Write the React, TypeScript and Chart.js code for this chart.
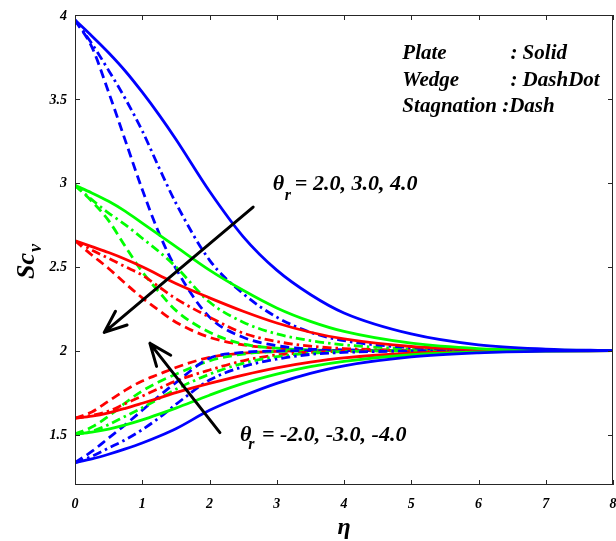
import React, { useEffect, useRef } from 'react';
import { Chart, registerables } from 'chart.js';

Chart.register(...registerables);

// ---------- data ----------
const ETA = [0, 0.25, 0.5, 0.75, 1, 1.25, 1.5, 2, 2.5, 3, 3.5, 4, 5, 6, 7, 8];

// Plate (solid)
const PLATE_POS_2 = [2.655, 2.62, 2.585, 2.545, 2.5, 2.45, 2.4, 2.315, 2.235, 2.165, 2.11, 2.07, 2.025, 2.008, 2.002, 2.0];
const PLATE_POS_3 = [2.985, 2.94, 2.89, 2.83, 2.76, 2.69, 2.62, 2.48, 2.36, 2.255, 2.175, 2.115, 2.045, 2.013, 2.004, 2.0];
const PLATE_POS_4 = [3.97, 3.875, 3.775, 3.665, 3.54, 3.405, 3.26, 2.95, 2.68, 2.48, 2.335, 2.225, 2.1, 2.035, 2.01, 2.0];
const PLATE_NEG_2 = [1.598, 1.61, 1.63, 1.657, 1.687, 1.718, 1.75, 1.805, 1.855, 1.898, 1.932, 1.957, 1.985, 1.995, 1.999, 2.0];
const PLATE_NEG_3 = [1.503, 1.515, 1.533, 1.558, 1.588, 1.622, 1.658, 1.735, 1.805, 1.86, 1.905, 1.937, 1.976, 1.992, 1.998, 2.0];
const PLATE_NEG_4 = [1.333, 1.355, 1.383, 1.415, 1.45, 1.49, 1.535, 1.645, 1.73, 1.805, 1.865, 1.91, 1.963, 1.987, 1.997, 2.0];

// Wedge (dash-dot)
const WEDGE_POS_2 = [2.655, 2.6, 2.55, 2.5, 2.45, 2.38, 2.31, 2.2, 2.105, 2.055, 2.027, 2.013, 2.003, 2.0, 2.0, 2.0];
const WEDGE_POS_3 = [2.985, 2.9, 2.82, 2.75, 2.67, 2.59, 2.5, 2.29, 2.17, 2.1, 2.06, 2.035, 2.01, 2.003, 2.0, 2.0];
const WEDGE_POS_4 = [3.97, 3.83, 3.67, 3.5, 3.31, 3.09, 2.88, 2.54, 2.34, 2.2, 2.11, 2.06, 2.018, 2.005, 2.0, 2.0];
const WEDGE_NEG_2 = [1.598, 1.615, 1.64, 1.685, 1.73, 1.775, 1.82, 1.885, 1.94, 1.975, 1.99, 1.997, 2.0, 2.0, 2.0, 2.0];
const WEDGE_NEG_3 = [1.503, 1.52, 1.56, 1.61, 1.66, 1.715, 1.77, 1.86, 1.925, 1.965, 1.985, 1.995, 2.0, 2.0, 2.0, 2.0];
const WEDGE_NEG_4 = [1.333, 1.37, 1.42, 1.47, 1.53, 1.6, 1.68, 1.825, 1.905, 1.95, 1.978, 1.99, 1.998, 2.0, 2.0, 2.0];

// Stagnation (dash)
const STAG_POS_2 = [2.655, 2.57, 2.49, 2.4, 2.315, 2.24, 2.17, 2.08, 2.035, 2.015, 2.006, 2.002, 2.0, 2.0, 2.0, 2.0];
const STAG_POS_3 = [2.985, 2.89, 2.775, 2.62, 2.47, 2.35, 2.24, 2.11, 2.04, 2.015, 2.005, 2.0, 2.0, 2.0, 2.0, 2.0];
const STAG_POS_4 = [3.97, 3.81, 3.54, 3.25, 2.96, 2.7, 2.49, 2.2, 2.08, 2.03, 2.01, 2.005, 2.0, 2.0, 2.0, 2.0];
const STAG_NEG_2 = [1.598, 1.635, 1.7, 1.765, 1.82, 1.86, 1.9, 1.96, 1.985, 1.996, 2.0, 2.0, 2.0, 2.0, 2.0, 2.0];
const STAG_NEG_3 = [1.503, 1.545, 1.61, 1.69, 1.76, 1.815, 1.86, 1.94, 1.98, 1.995, 2.0, 2.0, 2.0, 2.0, 2.0, 2.0];
const STAG_NEG_4 = [1.333, 1.4, 1.48, 1.56, 1.645, 1.73, 1.81, 1.955, 1.99, 1.998, 2.0, 2.0, 2.0, 2.0, 2.0, 2.0];

const X_TICKS = [0, 1, 2, 3, 4, 5, 6, 7, 8];
const X_TICK_LABELS = ['0', '1', '2', '3', '4', '5', '6', '7', '8'];
const Y_TICKS = [1.5, 2, 2.5, 3, 3.5, 4];
const Y_TICK_LABELS = ['1.5', '2', '2.5', '3', '3.5', '4'];

const LEGEND_NAMES = ['Plate', 'Wedge', 'Stagnation :Dash'];
const LEGEND_STYLES = [': Solid', ': DashDot', ''];
const THETA_POS_TEXT = '= 2.0, 3.0, 4.0';
const THETA_NEG_TEXT = '= -2.0, -3.0, -4.0';

// ---------- styles ----------
const RED = '#ff0000';
const GREEN = '#00ff00';
const BLUE = '#0000ff';
const SOLID: number[] = [];
const DASHDOT = [9, 4, 2.5, 4];
const DASH = [9, 5];
const SERIF = '"Liberation Serif", "Times New Roman", serif';

const SERIES = [
  { d: PLATE_POS_4, c: BLUE, dash: SOLID },
  { d: PLATE_NEG_4, c: BLUE, dash: SOLID },
  { d: PLATE_POS_3, c: GREEN, dash: SOLID },
  { d: PLATE_NEG_3, c: GREEN, dash: SOLID },
  { d: PLATE_POS_2, c: RED, dash: SOLID },
  { d: PLATE_NEG_2, c: RED, dash: SOLID },
  { d: WEDGE_POS_4, c: BLUE, dash: DASHDOT },
  { d: WEDGE_NEG_4, c: BLUE, dash: DASHDOT },
  { d: WEDGE_POS_3, c: GREEN, dash: DASHDOT },
  { d: WEDGE_NEG_3, c: GREEN, dash: DASHDOT },
  { d: WEDGE_POS_2, c: RED, dash: DASHDOT },
  { d: WEDGE_NEG_2, c: RED, dash: DASHDOT },
  { d: STAG_POS_4, c: BLUE, dash: DASH },
  { d: STAG_NEG_4, c: BLUE, dash: DASH },
  { d: STAG_POS_3, c: GREEN, dash: DASH },
  { d: STAG_NEG_3, c: GREEN, dash: DASH },
  { d: STAG_POS_2, c: RED, dash: DASH },
  { d: STAG_NEG_2, c: RED, dash: DASH },
];

// annotation anchors in data coordinates (eta, value)
const ARROW_UP = { from: [2.649, 2.856], to: [0.435, 2.109] };
const ARROW_DOWN = { from: [2.155, 1.512], to: [1.114, 2.044] };
const LEGEND_X = 4.868;
const LEGEND_X2 = 6.474;
const LEGEND_Y = [3.737, 3.576, 3.421];
const THETA_POS = { x: 2.942, y: 2.955, rx: 3.12, ry: 2.896, tx: 3.269 };
const THETA_NEG = { x: 2.452, y: 1.463, rx: 2.578, ry: 1.412, tx: 2.779 };

const overlay = {
  id: 'overlay',
  afterDraw(chart: any) {
    const { ctx, chartArea: a, scales } = chart;
    const xs = scales.x;
    const ys = scales.y;
    const px = (v: number) => xs.getPixelForValue(v);
    const py = (v: number) => ys.getPixelForValue(v);
    ctx.save();

    // frame + inward ticks
    ctx.strokeStyle = '#262626';
    ctx.lineWidth = 1;
    ctx.setLineDash([]);
    ctx.strokeRect(a.left + 0.5, a.top + 0.5, a.right - a.left - 1, a.bottom - a.top - 1);
    ctx.beginPath();
    X_TICKS.forEach((t) => {
      const x = Math.round(px(t)) + 0.5;
      ctx.moveTo(x, a.bottom);
      ctx.lineTo(x, a.bottom - 5);
      ctx.moveTo(x, a.top);
      ctx.lineTo(x, a.top + 5);
    });
    Y_TICKS.forEach((t) => {
      const y = Math.round(py(t)) + 0.5;
      ctx.moveTo(a.left, y);
      ctx.lineTo(a.left + 5, y);
      ctx.moveTo(a.right, y);
      ctx.lineTo(a.right - 5, y);
    });
    ctx.stroke();

    // tick labels
    ctx.fillStyle = '#000';
    ctx.font = `italic bold 14px ${SERIF}`;
    ctx.textAlign = 'center';
    ctx.textBaseline = 'top';
    X_TICKS.forEach((t, i) => ctx.fillText(X_TICK_LABELS[i], px(t), a.bottom + 12));
    ctx.textAlign = 'right';
    ctx.textBaseline = 'middle';
    Y_TICKS.forEach((t, i) => ctx.fillText(Y_TICK_LABELS[i], a.left - 8, py(t) + 1));

    // axis titles
    ctx.textAlign = 'center';
    ctx.textBaseline = 'alphabetic';
    ctx.font = `italic bold 24px ${SERIF}`;
    ctx.fillText('η', (a.left + a.right) / 2, 534);

    ctx.save();
    ctx.translate(34, 279);
    ctx.rotate(-Math.PI / 2);
    ctx.textAlign = 'left';
    ctx.font = `italic bold 26px ${SERIF}`;
    ctx.fillText('Sc', 0, 0);
    const w = ctx.measureText('Sc').width;
    ctx.font = `italic bold 18px ${SERIF}`;
    ctx.fillText('v', w + 1, 7);
    ctx.restore();

    // legend-like text
    ctx.textAlign = 'left';
    ctx.font = `italic bold 21px ${SERIF}`;
    LEGEND_NAMES.forEach((n, i) => {
      ctx.fillText(n, px(LEGEND_X), py(LEGEND_Y[i]));
      if (LEGEND_STYLES[i]) ctx.fillText(LEGEND_STYLES[i], px(LEGEND_X2), py(LEGEND_Y[i]));
    });

    // theta labels
    const theta = (p: any, txt: string) => {
      ctx.font = `italic bold 22px ${SERIF}`;
      ctx.fillText('θ', px(p.x), py(p.y));
      ctx.font = `italic bold 16px ${SERIF}`;
      ctx.fillText('r', px(p.rx), py(p.ry));
      ctx.font = `italic bold 22px ${SERIF}`;
      ctx.fillText(txt, px(p.tx), py(p.y));
    };
    theta(THETA_POS, THETA_POS_TEXT);
    theta(THETA_NEG, THETA_NEG_TEXT);

    // arrows
    const arrow = (ar: any) => {
      const x0 = px(ar.from[0]);
      const y0 = py(ar.from[1]);
      const x1 = px(ar.to[0]);
      const y1 = py(ar.to[1]);
      ctx.strokeStyle = '#000';
      ctx.lineWidth = 3;
      ctx.lineCap = 'round';
      ctx.beginPath();
      ctx.moveTo(x0, y0);
      ctx.lineTo(x1, y1);
      const ang = Math.atan2(y0 - y1, x0 - x1);
      const HL = 24;
      const HA = (22 * Math.PI) / 180;
      [-1, 1].forEach((s) => {
        ctx.moveTo(x1, y1);
        ctx.lineTo(x1 + HL * Math.cos(ang + s * HA), y1 + HL * Math.sin(ang + s * HA));
      });
      ctx.stroke();
    };
    arrow(ARROW_UP);
    arrow(ARROW_DOWN);

    ctx.restore();
  },
};

export default function App() {
  const ref = useRef<HTMLCanvasElement | null>(null);
  useEffect(() => {
    if (!ref.current) return;
    const chart = new Chart(ref.current, {
      type: 'line',
      data: {
        datasets: SERIES.map((s) => ({
          data: ETA.map((x, i) => ({ x, y: s.d[i] })),
          borderColor: s.c,
          backgroundColor: s.c,
          borderDash: s.dash,
          borderWidth: 2.8,
          pointRadius: 0,
          fill: false,
          cubicInterpolationMode: 'monotone' as const,
          borderCapStyle: 'butt' as const,
          borderJoinStyle: 'round' as const,
        })),
      },
      options: {
        animation: false,
        responsive: false,
        devicePixelRatio: 1,
        layout: { padding: { left: 75, right: 3, top: 15, bottom: 56 } },
        plugins: { legend: { display: false }, tooltip: { enabled: false } },
        scales: {
          x: { type: 'linear', min: 0, max: 8, display: false },
          y: { type: 'linear', min: 1.2, max: 4, display: false },
        },
      },
      plugins: [overlay],
    } as any);
    return () => chart.destroy();
  }, []);
  return (
    <div style={{ position: 'absolute', left: 0, top: 0, width: 616, height: 541, background: '#fff' }}>
      <canvas ref={ref} width={616} height={541} />
    </div>
  );
}
